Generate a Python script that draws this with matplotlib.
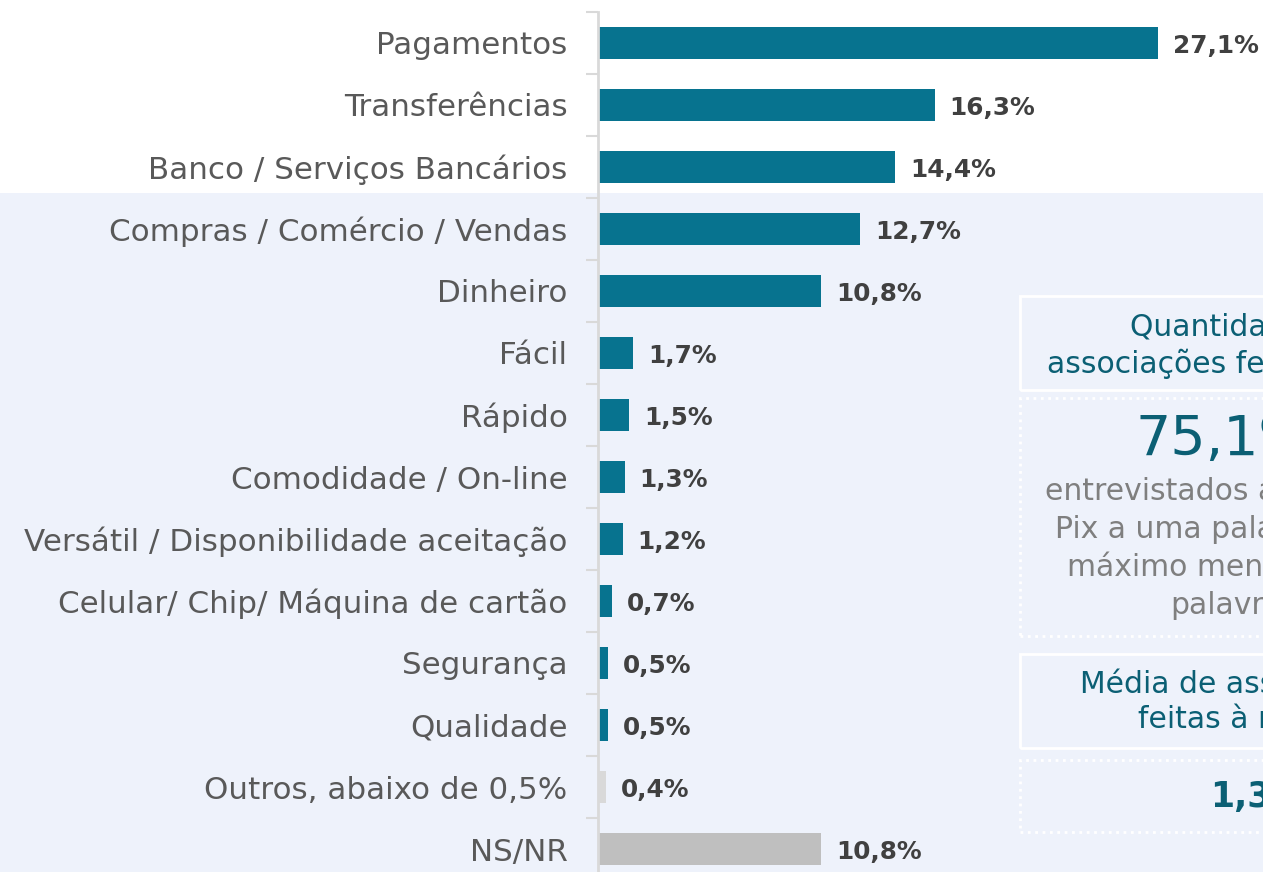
import matplotlib

matplotlib.use("Agg")
import matplotlib.pyplot as plt
from matplotlib.patches import Rectangle

# --- data ---------------------------------------------------------------- #
categories = [
    "Pagamentos",
    "Transferências",
    "Banco / Serviços Bancários",
    "Compras / Comércio / Vendas",
    "Dinheiro",
    "Fácil",
    "Rápido",
    "Comodidade / On-line",
    "Versátil / Disponibilidade aceitação",
    "Celular/ Chip/ Máquina de cartão",
    "Segurança",
    "Qualidade",
    "Outros, abaixo de 0,5%",
    "NS/NR",
]
values = [27.1, 16.3, 14.4, 12.7, 10.8, 1.7, 1.5, 1.3, 1.2, 0.7, 0.5, 0.5, 0.4, 10.8]
labels = ["27,1%", "16,3%", "14,4%", "12,7%", "10,8%", "1,7%", "1,5%", "1,3%",
          "1,2%", "0,7%", "0,5%", "0,5%", "0,4%", "10,8%"]

TEAL = "#07738F"
bar_colors = [TEAL] * 12 + ["#D9D9D9", "#BFBFBF"]

W, H = 1263, 872
FONT = "DejaVu Sans"


def fx(x):
    return x / W


def fy(y):
    return 1 - y / H


fig = plt.figure(figsize=(W / 100, H / 100), dpi=100)
fig.patch.set_facecolor("white")

# light blue panel behind the lower part
fig.patches.append(Rectangle((0, 0), 1, fy(193), transform=fig.transFigure,
                             facecolor="#EEF2FB", edgecolor="none", zorder=-5))

# axes: x from 598 px to right edge, y from 12 px to bottom
ax = fig.add_axes([fx(598), 0, 1 - fx(598), fy(12)])
ax.set_zorder(3)
ax.patch.set_alpha(0)
n = len(categories)
pos = list(range(n))
ax.barh(pos, values, height=0.52, color=bar_colors, zorder=2)
ax.set_xlim(0, 32.2)
ax.set_ylim(n - 1 + 23 / 62, -0.5)

for p, v, lab in zip(pos, values, labels):
    ax.text(v + 0.72, p + 0.05, lab, va="center", ha="left", fontsize=17.8,
            fontweight="bold", color="#404040", family=FONT)

ax.set_yticks(pos)
ax.set_yticklabels(categories, fontsize=22.3, color="#595959", family=FONT)
ax.set_yticks([p - 0.5 for p in pos], minor=True)
ax.tick_params(axis="y", which="major", length=0, pad=22)
ax.tick_params(axis="y", which="minor", length=9, width=1.5, color="#D9D9D9")
ax.set_xticks([])
for s in ("top", "right", "bottom"):
    ax.spines[s].set_visible(False)
ax.spines["left"].set_color("#D9D9D9")
ax.spines["left"].set_linewidth(2)

# --- right-hand summary boxes (cut at the figure edge) -------------------- #
boxes = [(296, 390, "-"), (398, 636, ":"), (654, 748, "-"), (760, 832, ":")]
for top, bottom, ls in boxes:
    fig.patches.append(Rectangle((fx(1020), fy(bottom)), 1, (bottom - top) / H,
                                 transform=fig.transFigure, facecolor="none",
                                 edgecolor="white", linewidth=2, linestyle=ls,
                                 zorder=1))

DARK_TEAL = "#0B5F74"
GRAY = "#7F7F7F"
side_text = [
    (1130, 327, "Quantidade de", 21.5, DARK_TEAL, "normal"),
    (1047, 364, "associações feitas ao Pix", 21.5, DARK_TEAL, "normal"),
    (1135, 440, "75,1%", 40, DARK_TEAL, "normal"),
    (1045, 492, "entrevistados associaram o", 21.5, GRAY, "normal"),
    (1055, 530, "Pix a uma palavra ou no", 21.5, GRAY, "normal"),
    (1067, 568, "máximo mencionaram", 21.5, GRAY, "normal"),
    (1170, 606, "palavras", 21.5, GRAY, "normal"),
    (1080, 684, "Média de associações", 21.5, DARK_TEAL, "normal"),
    (1138, 719, "feitas à menção", 21.5, DARK_TEAL, "normal"),
    (1210, 797, "1,3", 25, DARK_TEAL, "bold"),
]
for x, y, txt, size, col, wt in side_text:
    fig.text(fx(x), fy(y), txt, ha="left", va="center", fontsize=size,
             color=col, fontweight=wt, family=FONT)

fig.savefig("out.png", dpi=100)
